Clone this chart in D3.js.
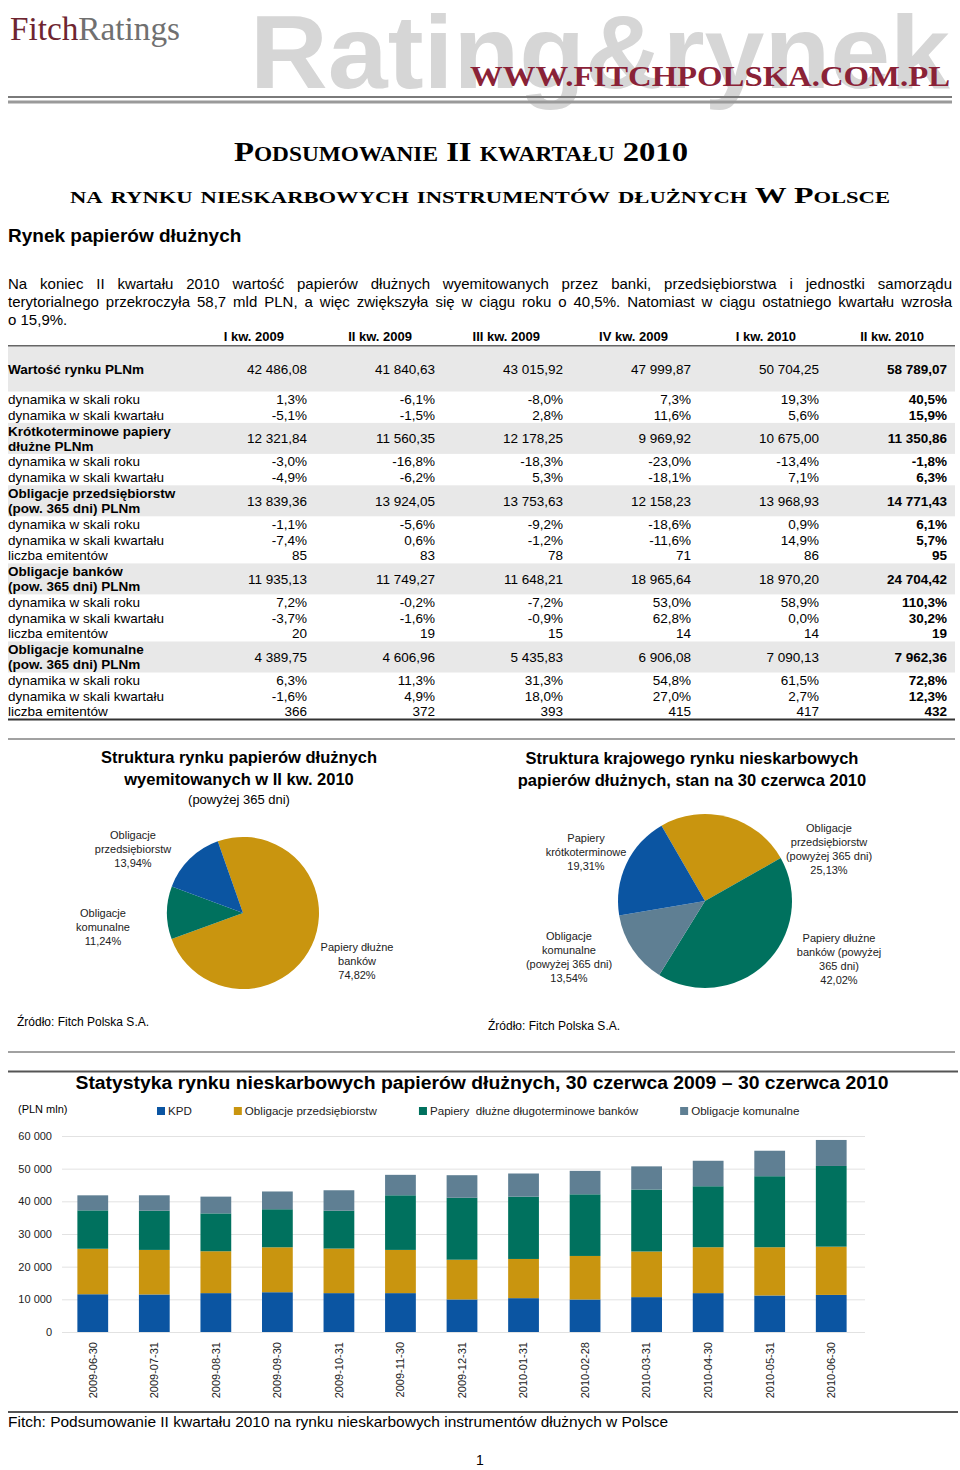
<html>
<head>
<meta charset="utf-8">
<script src="https://d3js.org/d3.v7.min.js"></script>
<style>
body { margin: 0; background: #fff; }
text { font-family: "Liberation Sans", Arial, sans-serif; fill: #000; }
</style>
</head>
<body>
<script>
// ---- table data ----
var quarters = ["I kw. 2009", "II kw. 2009", "III kw. 2009", "IV kw. 2009", "I kw. 2010", "II kw. 2010"];
var wartoscRynku = [42486.08, 41840.63, 43015.92, 47999.87, 50704.25, 58789.07];
var rynekDynRok = [1.3, -6.1, -8.0, 7.3, 19.3, 40.5];
var rynekDynKw = [-5.1, -1.5, 2.8, 11.6, 5.6, 15.9];
var kpdWartosc = [12321.84, 11560.35, 12178.25, 9969.92, 10675.00, 11350.86];
var kpdDynRok = [-3.0, -16.8, -18.3, -23.0, -13.4, -1.8];
var kpdDynKw = [-4.9, -6.2, 5.3, -18.1, 7.1, 6.3];
var przedsWartosc = [13839.36, 13924.05, 13753.63, 12158.23, 13968.93, 14771.43];
var przedsDynRok = [-1.1, -5.6, -9.2, -18.6, 0.9, 6.1];
var przedsDynKw = [-7.4, 0.6, -1.2, -11.6, 14.9, 5.7];
var przedsEmitenci = [85, 83, 78, 71, 86, 95];
var bankiWartosc = [11935.13, 11749.27, 11648.21, 18965.64, 18970.20, 24704.42];
var bankiDynRok = [7.2, -0.2, -7.2, 53.0, 58.9, 110.3];
var bankiDynKw = [-3.7, -1.6, -0.9, 62.8, 0.0, 30.2];
var bankiEmitenci = [20, 19, 15, 14, 14, 19];
var komWartosc = [4389.75, 4606.96, 5435.83, 6906.08, 7090.13, 7962.36];
var komDynRok = [6.3, 11.3, 31.3, 54.8, 61.5, 72.8];
var komDynKw = [-1.6, 4.9, 18.0, 27.0, 2.7, 12.3];
var komEmitenci = [366, 372, 393, 415, 417, 432];

// ---- pie data ----
var pie1Values = [74.82, 11.24, 13.94];
var pie1Labels = [["Papiery dłużne", "banków", "74,82%"], ["Obligacje", "komunalne", "11,24%"], ["Obligacje", "przedsiębiorstw", "13,94%"]];
var pie2Values = [25.13, 42.02, 13.54, 19.31];
var pie2Labels = [["Obligacje", "przedsiębiorstw", "(powyżej 365 dni)", "25,13%"],
                  ["Papiery dłużne", "banków (powyżej", "365 dni)", "42,02%"],
                  ["Obligacje", "komunalne", "(powyżej 365 dni)", "13,54%"],
                  ["Papiery", "krótkoterminowe", "19,31%"]];

// ---- bar data (PLN mln) ----
var dates = ["2009-06-30", "2009-07-31", "2009-08-31", "2009-09-30", "2009-10-31", "2009-11-30", "2009-12-31",
             "2010-01-31", "2010-02-28", "2010-03-31", "2010-04-30", "2010-05-31", "2010-06-30"];
var kpd = [11560, 11490, 11900, 12178, 11900, 11900, 9970, 10360, 9950, 10675, 11900, 11180, 11351];
var oblPrzeds = [13924, 13640, 12820, 13754, 13640, 13230, 12158, 12000, 13330, 13969, 14050, 14770, 14771];
var bankDlugo = [11749, 12000, 11590, 11648, 11590, 16720, 18966, 19080, 18870, 18970, 18670, 21740, 24704];
var oblKom = [4607, 4720, 5130, 5436, 6260, 6260, 6906, 7080, 7180, 7090, 7800, 7800, 7962];
var seriesNames = ["KPD", "Obligacje przedsiębiorstw", "Papiery  dłużne długoterminowe banków", "Obligacje komunalne"];
var yTicks = [0, 10000, 20000, 30000, 40000, 50000, 60000];

var BLUE = "#0b55a2", GOLD = "#c9950f", GREEN = "#00715e", SLATE = "#5f7f93";

var pl = d3.formatLocale({decimal: ",", thousands: " ", grouping: [3], currency: ["", ""], minus: "-"});
var fNum = pl.format(",.2f"), fPct = function (v) { return pl.format(".1f")(v) + "%"; }, fInt = pl.format(",d");

var svg = d3.select("body").append("svg").attr("width", 960).attr("height", 1470);

function hline(y, x1, x2, color, w) {
  svg.append("line").attr("x1", x1).attr("x2", x2).attr("y1", y).attr("y2", y)
    .attr("stroke", color).attr("stroke-width", w);
}

// ---- header ----
svg.append("text").attr("x", 250).attr("y", 88).text("Rating&rynek")
  .style("font-weight", "bold").attr("font-size", 104).style("fill", "#d6d6d6")
  .attr("textLength", 700).attr("lengthAdjust", "spacingAndGlyphs");
svg.append("text").attr("x", 470).attr("y", 86).text("WWW.FITCHPOLSKA.COM.PL")
  .style("font-family", "Liberation Serif").style("font-weight", "bold").attr("font-size", 29)
  .style("fill", "#8a2237").attr("textLength", 480).attr("lengthAdjust", "spacingAndGlyphs");
var logo = svg.append("text").attr("x", 10).attr("y", 40).style("font-family", "Liberation Serif")
  .attr("font-size", 33).attr("textLength", 170).attr("lengthAdjust", "spacingAndGlyphs");
logo.append("tspan").text("Fitch").style("fill", "#6e2530");
logo.append("tspan").text("Ratings").style("fill", "#707070");
hline(97, 8, 952, "#7a7a7a", 2);
hline(102, 8, 952, "#9a9a9a", 3);

// ---- titles ----
svg.append("text").attr("x", 461).attr("y", 161).attr("text-anchor", "middle")
  .text("Podsumowanie II kwartału 2010").style("font-family", "Liberation Serif")
  .style("font-weight", "bold").style("font-variant", "small-caps").attr("font-size", 28)
  .attr("textLength", 454).attr("lengthAdjust", "spacingAndGlyphs");
svg.append("text").attr("x", 480).attr("y", 203).attr("text-anchor", "middle")
  .text("na rynku nieskarbowych instrumentów dłużnych W Polsce").style("font-family", "Liberation Serif")
  .style("font-weight", "bold").style("font-variant", "small-caps").attr("font-size", 24)
  .attr("textLength", 820).attr("lengthAdjust", "spacingAndGlyphs");
svg.append("text").attr("x", 8).attr("y", 242).text("Rynek papierów dłużnych")
  .style("font-weight", "bold").attr("font-size", 19);

// ---- paragraph (justified) ----
var para = [
  ["Na koniec II kwartału 2010 wartość papierów dłużnych wyemitowanych przez banki, przedsiębiorstwa i jednostki samorządu", true],
  ["terytorialnego przekroczyła 58,7 mld PLN, a więc zwiększyła się w ciągu roku o 40,5%. Natomiast w ciągu ostatniego kwartału wzrosła", true],
  ["o 15,9%.", false]
];
para.forEach(function (p, i) {
  var y = 289 + i * 18;
  var words = p[0].split(" ");
  var g = svg.append("g");
  var nodes = words.map(function (w) { return g.append("text").attr("font-size", 15).attr("y", y).text(w); });
  var widths = nodes.map(function (n) { return n.node().getComputedTextLength(); });
  var total = d3.sum(widths);
  var gap = p[1] ? (944 - total) / (words.length - 1) : 4.2;
  var x = 8;
  nodes.forEach(function (n, k) { n.attr("x", x); x += widths[k] + gap; });
});

// ---- table ----
var colX = d3.scalePoint().domain(quarters).range([307, 947]);
svg.append("g").selectAll("text").data(quarters).join("text")
  .attr("x", function (d) { return colX(d) - 23; }).attr("y", 341).attr("text-anchor", "end")
  .style("font-weight", "bold").attr("font-size", 13).text(function (d) { return d; });
hline(346, 8, 955, "#333", 1.5);

var rows = [
  {label: ["Wartość rynku PLNm"], vals: wartoscRynku, f: fNum, band: true, first: true},
  {label: ["dynamika w skali roku"], vals: rynekDynRok, f: fPct},
  {label: ["dynamika w skali kwartału"], vals: rynekDynKw, f: fPct},
  {label: ["Krótkoterminowe papiery", "dłużne PLNm"], vals: kpdWartosc, f: fNum, band: true},
  {label: ["dynamika w skali roku"], vals: kpdDynRok, f: fPct},
  {label: ["dynamika w skali kwartału"], vals: kpdDynKw, f: fPct},
  {label: ["Obligacje przedsiębiorstw", "(pow. 365 dni) PLNm"], vals: przedsWartosc, f: fNum, band: true},
  {label: ["dynamika w skali roku"], vals: przedsDynRok, f: fPct},
  {label: ["dynamika w skali kwartału"], vals: przedsDynKw, f: fPct},
  {label: ["liczba emitentów"], vals: przedsEmitenci, f: fInt},
  {label: ["Obligacje banków", "(pow. 365 dni) PLNm"], vals: bankiWartosc, f: fNum, band: true},
  {label: ["dynamika w skali roku"], vals: bankiDynRok, f: fPct},
  {label: ["dynamika w skali kwartału"], vals: bankiDynKw, f: fPct},
  {label: ["liczba emitentów"], vals: bankiEmitenci, f: fInt},
  {label: ["Obligacje komunalne", "(pow. 365 dni) PLNm"], vals: komWartosc, f: fNum, band: true},
  {label: ["dynamika w skali roku"], vals: komDynRok, f: fPct},
  {label: ["dynamika w skali kwartału"], vals: komDynKw, f: fPct},
  {label: ["liczba emitentów"], vals: komEmitenci, f: fInt}
];
var yCur = 346.5;
rows.forEach(function (r) {
  var h = r.first ? 45 : (r.band ? 31 : 15.7);
  var cy = yCur + h / 2;
  var g = svg.append("g");
  if (r.band) g.append("rect").attr("x", 8).attr("y", yCur).attr("width", 947).attr("height", h).attr("fill", "#e8e8e8");
  r.label.forEach(function (t, k) {
    g.append("text").attr("x", 8).attr("y", cy + (k - (r.label.length - 1) / 2) * 15).attr("dy", "0.35em")
      .attr("font-size", 13.5).style("font-weight", r.band ? "bold" : "normal").text(t);
  });
  g.selectAll("text.v").data(r.vals).join("text").attr("class", "v")
    .attr("x", function (d, i) { return colX(quarters[i]); }).attr("y", cy).attr("dy", "0.35em")
    .attr("text-anchor", "end").attr("font-size", 13.5)
    .style("font-weight", function (d, i) { return i === 5 ? "bold" : "normal"; })
    .text(function (d) { return r.f(d); });
  yCur += h;
});
hline(719.5, 8, 955, "#333", 2);
hline(739, 8, 955, "#444", 1.2);

// ---- pies ----
function drawPie(cx, cy, r, values, colors, startDeg, labels, labelPos) {
  var a0 = startDeg * Math.PI / 180;
  var pie = d3.pie().sort(null).value(function (d) { return d; }).startAngle(a0).endAngle(a0 + 2 * Math.PI);
  var arc = d3.arc().innerRadius(0).outerRadius(r);
  var g = svg.append("g").attr("transform", "translate(" + cx + "," + cy + ")");
  g.selectAll("path").data(pie(values)).join("path").attr("d", arc)
    .attr("fill", function (d, i) { return colors[i]; });
  labels.forEach(function (lines, i) {
    var p = labelPos[i];
    lines.forEach(function (t, k) {
      svg.append("text").attr("x", p[0]).attr("y", p[1] + (k - (lines.length - 1) / 2) * 13.8)
        .attr("dy", "0.35em").attr("text-anchor", "middle").attr("font-size", 11).style("fill", "#222").text(t);
    });
  });
}
function pieTitle(cx, lines, y0) {
  lines.forEach(function (t, k) {
    svg.append("text").attr("x", cx).attr("y", y0 + k * 22).attr("dy", "0.35em").attr("text-anchor", "middle")
      .attr("font-size", 16.5).style("font-weight", "bold").text(t);
  });
}
pieTitle(239, ["Struktura rynku papierów dłużnych", "wyemitowanych w II kw. 2010"], 757);
svg.append("text").attr("x", 239).attr("y", 799).attr("dy", "0.35em").attr("text-anchor", "middle")
  .attr("font-size", 13).text("(powyżej 365 dni)");
drawPie(243, 913, 76, pie1Values, [GOLD, GREEN, BLUE], -19.4, pie1Labels, [[357, 961], [103, 927], [133, 849]]);
svg.append("text").attr("x", 17).attr("y", 1022).attr("dy", "0.35em").attr("font-size", 12).text("Źródło: Fitch Polska S.A.");

pieTitle(692, ["Struktura krajowego rynku nieskarbowych", "papierów dłużnych, stan na 30 czerwca 2010"], 758);
drawPie(705, 901, 87, pie2Values, [GOLD, GREEN, SLATE, BLUE], -30, pie2Labels, [[829, 849], [839, 959], [569, 957], [586, 852]]);
svg.append("text").attr("x", 488).attr("y", 1026).attr("dy", "0.35em").attr("font-size", 12).text("Źródło: Fitch Polska S.A.");

hline(1052, 8, 955, "#444", 1.2);
hline(1071.5, 8, 958, "#555", 2);

// ---- stacked bar chart ----
svg.append("text").attr("x", 482).attr("y", 1083).attr("dy", "0.35em").attr("text-anchor", "middle")
  .attr("font-size", 18).style("font-weight", "bold")
  .attr("textLength", 813).attr("lengthAdjust", "spacingAndGlyphs")
  .text("Statystyka rynku nieskarbowych papierów dłużnych, 30 czerwca 2009 – 30 czerwca 2010");
svg.append("text").attr("x", 18).attr("y", 1109).attr("dy", "0.35em").attr("font-size", 11).text("(PLN mln)");

var keys = ["kpd", "przeds", "bank", "kom"];
var colors = [BLUE, GOLD, GREEN, SLATE];
var table = dates.map(function (d, i) {
  return {date: d, kpd: kpd[i], przeds: oblPrzeds[i], bank: bankDlugo[i], kom: oblKom[i]};
});
var x = d3.scaleBand().domain(dates).range([62, 862]).paddingInner(0.5).paddingOuter(0.25);
var y = d3.scaleLinear().domain([0, 60000]).range([1332, 1136]);

var grid = svg.append("g").attr("transform", "translate(62,0)")
  .call(d3.axisRight(y).tickValues(yTicks).tickSize(803).tickFormat(""));
grid.select(".domain").remove();
grid.selectAll("line").attr("stroke", "#e2e2e2");

var yAx = svg.append("g").attr("transform", "translate(56,0)")
  .call(d3.axisLeft(y).tickValues(yTicks).tickSize(0).tickPadding(4).tickFormat(fInt));
yAx.select(".domain").remove();
yAx.selectAll("text").attr("font-size", 11).style("font-family", "Liberation Sans, Arial, sans-serif").style("fill", "#222");

var stack = d3.stack().keys(keys)(table);
svg.append("g").selectAll("g").data(stack).join("g")
  .attr("fill", function (d, i) { return colors[i]; })
  .selectAll("rect").data(function (d) { return d; }).join("rect")
  .attr("x", function (d) { return x(d.data.date); })
  .attr("width", x.bandwidth())
  .attr("y", function (d) { return y(d[1]); })
  .attr("height", function (d) { return y(d[0]) - y(d[1]); });

var xAx = svg.append("g").attr("transform", "translate(0,1332)")
  .call(d3.axisBottom(x).tickSize(0));
xAx.select(".domain").remove();
xAx.selectAll("text").attr("transform", "rotate(-90)").attr("text-anchor", "end")
  .attr("x", -10).attr("y", 0).attr("dy", "0.35em").attr("font-size", 11)
  .style("font-family", "Liberation Sans, Arial, sans-serif").style("fill", "#222");

// legend, laid out left to right
var lx = 157;
seriesNames.forEach(function (name, i) {
  svg.append("rect").attr("x", lx).attr("y", 1107).attr("width", 8).attr("height", 8).attr("fill", colors[i]);
  var t = svg.append("text").attr("x", lx + 11).attr("y", 1111).attr("dy", "0.35em").attr("font-size", 11.6)
    .style("fill", "#222").style("white-space", "pre").text(name);
  lx += 11 + t.node().getComputedTextLength() + 42;
});

// ---- footer ----
hline(1412, 8, 958, "#555", 2);
svg.append("text").attr("x", 8).attr("y", 1422).attr("dy", "0.35em").attr("font-size", 15)
  .attr("textLength", 660).attr("lengthAdjust", "spacingAndGlyphs")
  .text("Fitch: Podsumowanie II kwartału 2010 na rynku nieskarbowych instrumentów dłużnych w Polsce");
svg.append("text").attr("x", 480).attr("y", 1460).attr("dy", "0.35em").attr("text-anchor", "middle")
  .attr("font-size", 14).text("1");
</script>
</body>
</html>
